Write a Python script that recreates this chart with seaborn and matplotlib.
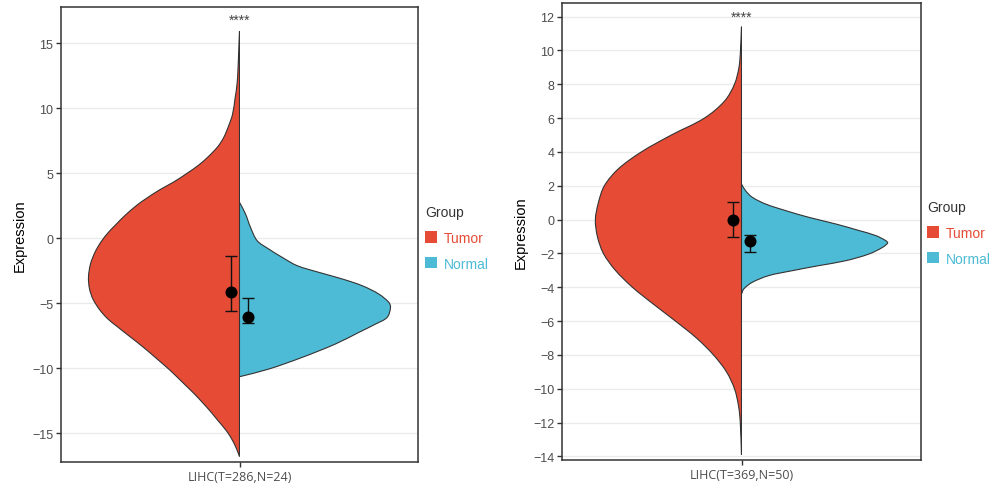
import numpy as np
import pandas as pd
import matplotlib
matplotlib.use("Agg")
import matplotlib.pyplot as plt
import seaborn as sns
from matplotlib.patches import Patch, PathPatch, Rectangle
from matplotlib.path import Path

# ---------------- data ----------------
groups = ["Tumor", "Normal"]
colors = ["#E64B35", "#4DBBD5"]

# Panel 1 : LIHC(T=286,N=24)
p1_label = "LIHC(T=286,N=24)"
p1_tumor_y = [15.9, 13.0, 11.8, 10.7, 9.5, 8.6, 7.7, 7.0, 6.2, 5.6, 5.0, 4.3, 3.7, 3.0,
              2.5, 1.7, 1.0, 0.44, -0.3, -1.1, -2.0, -3.0, -3.9, -4.7, -5.5, -6.2, -6.8,
              -7.5, -8.1, -8.8, -9.5, -10.1, -10.8, -11.4, -12.0, -12.7, -13.3, -14.0,
              -14.5, -15.0, -15.5, -16.0, -16.4, -16.8]
p1_tumor_dens = [0, 1.5, 2.5, 4.5, 7, 11, 16, 22, 32, 41, 52, 66, 80, 94,
                 103, 115, 124, 131, 138.5, 144.5, 149, 151, 150, 146.5, 140, 132, 122.5,
                 111, 101, 90, 79.5, 70.5, 61, 53, 45, 36.5, 29.5, 22,
                 16.5, 11.5, 7.5, 4.2, 2, 0]
p1_normal_y = [2.75, 1.85, 0.82, -0.21, -0.85, -1.49, -2.13, -2.64, -3.15, -3.67, -4.31,
               -4.95, -5.33, -6.1, -6.62, -7.26, -8.15, -9.18, -10.08, -10.67]
p1_normal_dens = [0, 6, 11, 17.7, 29.3, 42.7, 57.7, 79.3, 102.7, 122.7, 139.3,
                  149.3, 151, 147.7, 136, 119.3, 96, 62.7, 29.3, 0]
p1_means = [-4.15, -6.1]
p1_low = [-5.6, -6.5]
p1_high = [-1.4, -4.6]
p1_yticks = [-15, -10, -5, 0, 5, 10, 15]
p1_sig = "****"

# Panel 2 : LIHC(T=369,N=50)
p2_label = "LIHC(T=369,N=50)"
p2_tumor_y = [11.4, 10.0, 9.0, 8.0, 7.0, 6.0, 5.0, 4.0, 3.0, 2.0, 1.0, 0.0, -1.0, -2.0,
              -3.0, -4.0, -5.0, -6.0, -7.0, -8.0, -9.0, -10.0, -11.0, -12.0, -13.9]
p2_tumor_dens = [0, 1, 2.5, 7, 17, 37, 70, 100, 123, 137, 143, 146, 144, 138,
                 126, 109, 88, 66, 45, 28, 15, 7, 3, 1.2, 0]
p2_normal_y = [2.10, 1.71, 1.32, 0.92, 0.53, 0.13, -0.26, -0.65, -0.95, -1.25, -1.38,
               -1.64, -2.03, -2.43, -2.72, -3.02, -3.31, -3.71, -4.10, -4.40]
p2_normal_dens = [0, 4, 10.7, 24, 44, 67.3, 94, 117.3, 134, 144, 145.7,
                  140.7, 127.3, 104, 77.3, 50.7, 27.3, 10.7, 2.3, 0]
p2_means = [0.0, -1.25]
p2_low = [-1.03, -1.9]
p2_high = [1.06, -0.89]
p2_yticks = [-14, -12, -10, -8, -6, -4, -2, 0, 2, 4, 6, 8, 10, 12]
p2_sig = "****"


def smooth_half_violin(xs, ys, sx, sy):
    """Smooth outline through the read points (chordal cubic Hermite drawn as
    Bezier curves), closed back along the centre line. sx, sy: pixels per unit."""
    pts = np.column_stack([xs, ys]).astype(float)
    n = len(pts)
    d = np.hypot(np.diff(pts[:, 0]) * sx, np.diff(pts[:, 1]) * sy)
    d = np.maximum(d, 1e-6)
    tang = np.zeros_like(pts)
    for i in range(n):
        if i == 0:
            tang[i] = (pts[1] - pts[0]) / d[0]
        elif i == n - 1:
            tang[i] = (pts[-1] - pts[-2]) / d[-1]
        else:
            tang[i] = (pts[i + 1] - pts[i - 1]) / (d[i - 1] + d[i])
    verts = [tuple(pts[0])]
    codes = [Path.MOVETO]
    for i in range(n - 1):
        c1 = pts[i] + tang[i] * d[i] / 3.0
        c2 = pts[i + 1] - tang[i + 1] * d[i] / 3.0
        verts += [tuple(c1), tuple(c2), tuple(pts[i + 1])]
        codes += [Path.CURVE4] * 3
    verts.append(tuple(pts[0]))
    codes.append(Path.CLOSEPOLY)
    return Path(verts, codes)


# ---------------- style ----------------
sns.set_theme(style="whitegrid")
plt.rcParams["font.family"] = ["Liberation Sans", "DejaVu Sans"]

W, H = 994, 489
fig = plt.figure(figsize=(W / 100, H / 100), dpi=100)

panels = [
    dict(rect=[61 / W, 1 - 463 / H, 357 / W, 455 / H], label=p1_label,
         ty=p1_tumor_y, td=p1_tumor_dens, ny=p1_normal_y, nd=p1_normal_dens,
         means=p1_means, low=p1_low, high=p1_high, yticks=p1_yticks,
         ylim=(-17.23, 17.77), sig=p1_sig, sig_y=16.75, hw=0.423,
         leg=(425 / W, 1 - 206 / H)),
    dict(rect=[562 / W, 1 - 461 / H, 359 / W, 457 / H], label=p2_label,
         ty=p2_tumor_y, td=p2_tumor_dens, ny=p2_normal_y, nd=p2_normal_dens,
         means=p2_means, low=p2_low, high=p2_high, yticks=p2_yticks,
         ylim=(-14.21, 12.8), sig=p2_sig, sig_y=12.0, hw=0.407,
         leg=(927 / W, 1 - 201 / H)),
]

dodge = 0.025
edge = "#333333"

for p in panels:
    ax = fig.add_axes(p["rect"])
    ax.set_xlim(-0.5, 0.5)
    ax.set_ylim(*p["ylim"])
    sx = p["rect"][2] * W / 1.0
    sy = p["rect"][3] * H / (p["ylim"][1] - p["ylim"][0])
    # half violins
    for side, (yy, dd), col in zip([-1, 1], [(p["ty"], p["td"]), (p["ny"], p["nd"])], colors):
        yy = np.asarray(yy, float)
        dd = np.asarray(dd, float)
        xx = side * dd / dd.max() * p["hw"]
        patch = PathPatch(smooth_half_violin(xx, yy, sx, sy), facecolor=col, edgecolor=edge,
                          linewidth=0.8, zorder=2)
        ax.add_patch(patch)
        clip = Rectangle((0 if side > 0 else -1, -100), 1, 200, transform=ax.transData)
        patch.set_clip_path(clip)
    # mean points with error bars
    df = pd.DataFrame({"x": [-dodge, dodge], "y": p["means"], "group": groups})
    m = np.asarray(p["means"])
    ax.errorbar(df["x"], df["y"],
                yerr=[m - np.asarray(p["low"]), np.asarray(p["high"]) - m],
                fmt="none", ecolor="#111111", elinewidth=1.0, capsize=4, capthick=1.0, zorder=3)
    sns.scatterplot(data=df, x="x", y="y", color="black", s=75, edgecolor="black",
                    linewidth=0, legend=False, ax=ax, zorder=4)
    ax.text(0, p["sig_y"], p["sig"], ha="center", va="center", fontsize=10,
            color="#444444")

    ax.set_xlim(-0.5, 0.5)
    ax.set_ylim(*p["ylim"])
    ax.set_xticks([0])
    ax.set_xticklabels([p["label"]], fontsize=9, color="#4D4D4D", family="Open Sans")
    ax.set_yticks(p["yticks"])
    ax.set_yticklabels([f"{t}" if t >= 0 else f"\u2212{abs(t)}" for t in p["yticks"]],
                       fontsize=9, color="#4D4D4D")
    ax.set_xlabel("")
    ax.set_ylabel("Expression", fontsize=10.5, color="black", labelpad=4)
    ax.grid(axis="x", visible=False)
    ax.grid(axis="y", color="#EBEBEB", linewidth=1.0)
    ax.set_axisbelow(True)
    ax.set_facecolor("white")
    for s in ax.spines.values():
        s.set_visible(True)
        s.set_color("#333333")
        s.set_linewidth(1.1)
    ax.tick_params(axis="both", which="major", length=3.5, width=1.0, color="#333333",
                   pad=2, left=True, bottom=True)

    handles = [Patch(facecolor=c, edgecolor="none") for c in colors]
    leg = fig.legend(handles, groups, title="Group", loc="upper left",
                     bbox_to_anchor=p["leg"], bbox_transform=fig.transFigure,
                     frameon=False, fontsize=10, title_fontsize=10,
                     handlelength=0.85, handleheight=0.85, handletextpad=0.5,
                     labelspacing=0.85, borderpad=0, borderaxespad=0)
    leg._legend_box.align = "left"
    leg.get_title().set_color("#333333")
    for t, c in zip(leg.get_texts(), colors):
        t.set_color(c)

fig.savefig("out.png", dpi=100)
